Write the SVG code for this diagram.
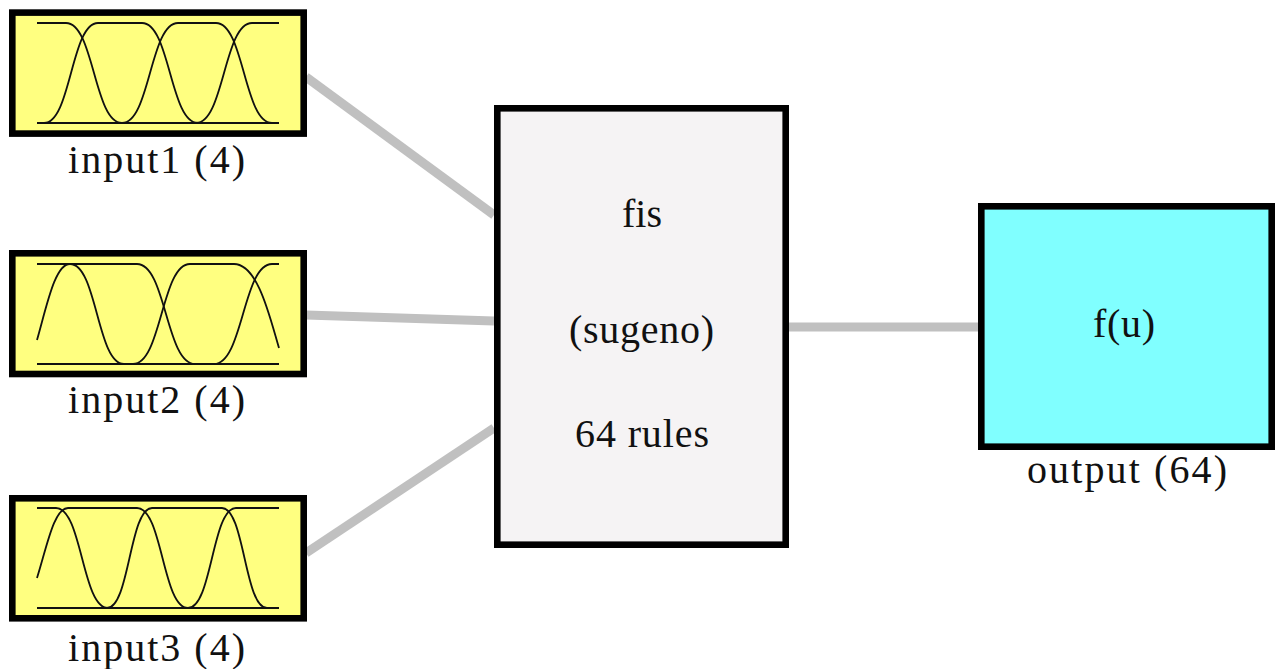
<svg xmlns="http://www.w3.org/2000/svg" width="1277" height="669" viewBox="0 0 1277 669">
<style>
.box{stroke:#000;stroke-width:6.6}
.in{fill:#ffff80}
.mf{fill:none;stroke:#111;stroke-width:1.8}
.lbl{font-family:"Liberation Serif","Times New Roman",serif;font-size:40px;fill:#111}
.conn{stroke:#c0c0c0;stroke-width:9;fill:none}
</style>
<rect width="1277" height="669" fill="#fff"/>
<g id="connectors">
<line class="conn" x1="306" y1="77" x2="494" y2="215"/>
<line class="conn" x1="306" y1="315" x2="494" y2="321"/>
<line class="conn" x1="306" y1="553" x2="494" y2="428"/>
<line class="conn" x1="788" y1="327" x2="979" y2="327"/>
</g>
<g id="input1">
<rect class="box in" x="12.3" y="12.6" width="291.4" height="121"/>
<path class="mf" d="M37,123 H279"/>
<path class="mf" d="M37,23 H66 C94,23 94,123 122,123"/>
<path class="mf" d="M44,123 C71,123 71,23 98,23 H142 C170,23 170,123 198,123"/>
<path class="mf" d="M122,123 C150,123 150,23 178,23 H216 C244,23 244,123 272,123"/>
<path class="mf" d="M196,123 C224,123 224,23 252,23 H279"/>
<text class="lbl" x="68" y="173" textLength="177">input1 (4)</text>
</g>
<g id="input2">
<rect class="box in" x="12.3" y="253.3" width="291.4" height="120.7"/>
<path class="mf" d="M37,364 H279"/>
<path class="mf" d="M37,340 C47,305 55,264 70,264 C97,264 97,364 124,364"/>
<path class="mf" d="M37,264 H137 C166,264 166,364 195,364"/>
<path class="mf" d="M133,364 C161.5,364 161.5,264 190,264 H234 C258,264 270,318 279,348"/>
<path class="mf" d="M214,364 C243,364 243,264 272,264 H279"/>
<text class="lbl" x="68" y="413" textLength="177">input2 (4)</text>
</g>
<g id="input3">
<rect class="box in" x="12.3" y="498.3" width="291.4" height="120"/>
<path class="mf" d="M37,608 H279"/>
<path class="mf" d="M37,508 H56 C82,508 82,608 108,608"/>
<path class="mf" d="M37,578 C47,546 54,508 68,508 H137 C162.5,508 162.5,608 188,608"/>
<path class="mf" d="M107,608 C129.5,608 129.5,508 152,508 H222 C244.5,508 244.5,608 267,608"/>
<path class="mf" d="M188,608 C212,608 212,508 236,508 H279"/>
<text class="lbl" x="68" y="661" textLength="177">input3 (4)</text>
</g>
<g id="fis">
<rect class="box" fill="#f5f3f4" x="497.3" y="108.3" width="288.4" height="436.4"/>
<text class="lbl" x="642" y="227" text-anchor="middle">fis</text>
<text class="lbl" x="641.5" y="343" text-anchor="middle" textLength="145">(sugeno)</text>
<text class="lbl" x="642" y="447" text-anchor="middle" textLength="134">64 rules</text>
</g>
<g id="output">
<rect class="box" fill="#80ffff" x="981.3" y="206.3" width="290.4" height="240.4"/>
<text class="lbl" x="1124" y="337" text-anchor="middle" textLength="62">f(u)</text>
<text class="lbl" x="1127" y="483" text-anchor="middle" textLength="200">output (64)</text>
</g>
</svg>
